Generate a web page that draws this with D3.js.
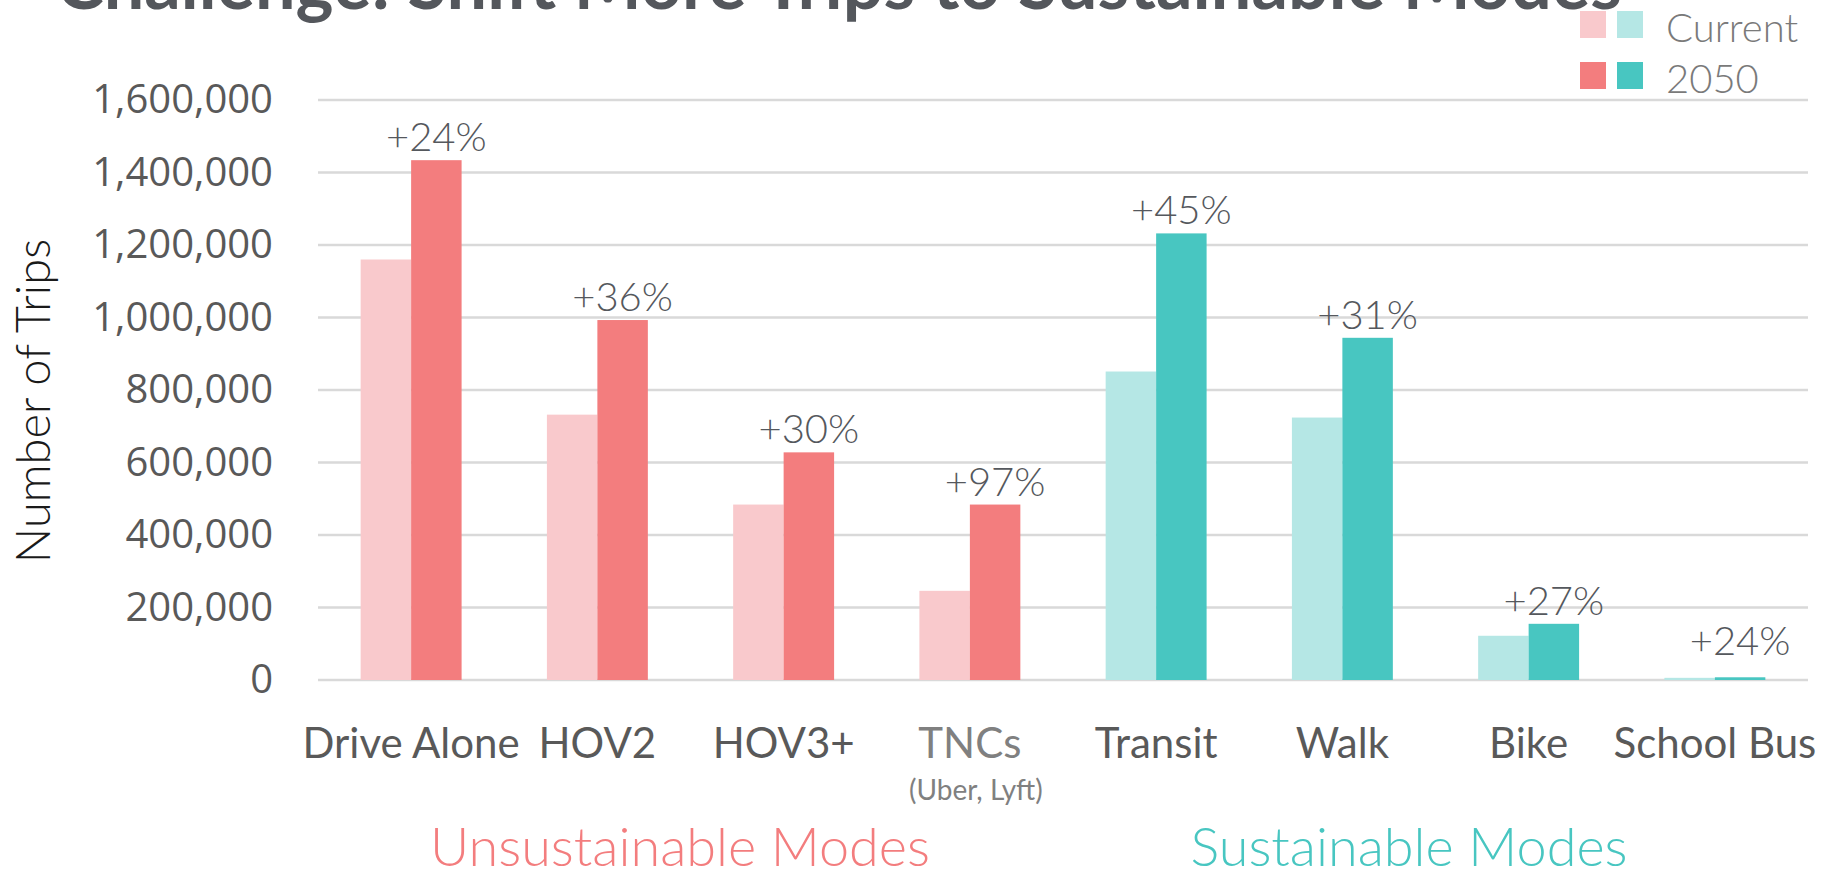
<!DOCTYPE html>
<html>
<head>
<meta charset="utf-8">
<script src="https://cdn.jsdelivr.net/npm/d3@7"></script>
<style>
  html, body { margin: 0; padding: 0; background: #fff; }
  svg { display: block; }
</style>
</head>
<body>
<div class="js-chart"></div>
<script>
// trips by mode, current vs 2050
const modes = ["Drive Alone", "HOV2", "HOV3+", "TNCs", "Transit", "Walk", "Bike", "School Bus"];
const subLabels = ["", "", "", "(Uber, Lyft)", "", "", "", ""];
const sustainable = [false, false, false, false, true, true, true, true];
const currentTrips = [1160000, 732000, 484000, 246000, 851000, 724000, 122000, 6000];
const futureTrips = [1434000, 993000, 628000, 484000, 1232000, 944000, 155000, 7500];
const changeLabels = ["+24%", "+36%", "+30%", "+97%", "+45%", "+31%", "+27%", "+24%"];
const yTicks = [0, 200000, 400000, 600000, 800000, 1000000, 1200000, 1400000, 1600000];
const seriesKeys = ["current", "future"];
const legendLabels = ["Current", "2050"];

const width = 1825
    , height = 875
    ;

const colors = {
  unsustainable: { current: "#f9c9cc", future: "#f37d7e" },
  sustainable: { current: "#b5e7e5", future: "#48c6c1" }
};

const rows = modes.map((m, i) => ({
  mode: m,
  sub: subLabels[i],
  group: sustainable[i] ? "sustainable" : "unsustainable",
  current: currentTrips[i],
  future: futureTrips[i],
  change: changeLabels[i]
}));

const svg = d3.select(".js-chart")
  .append("svg")
  .attr("width", width)
  .attr("height", height);

const x0 = d3.scaleBand()
  .domain(modes)
  .range([318, 1808])
  .paddingInner(0.458)
  .paddingOuter(0.229);

const x1 = d3.scaleBand()
  .domain(seriesKeys)
  .range([0, x0.bandwidth()]);

const y = d3.scaleLinear()
  .domain([0, 1600000])
  .range([680, 100]);

// title, cut off at the top like the slide
svg.append("text")
  .attr("x", 56)
  .attr("y", 9)
  .style("font", "bold 72px Lato, sans-serif")
  .attr("fill", "#54575c")
  .text("Challenge: Shift More Trips to Sustainable Modes");

// gridlines
svg.append("g")
  .selectAll("line")
  .data(yTicks)
  .join("line")
    .attr("x1", 318)
    .attr("x2", 1808)
    .attr("y1", d => y(d))
    .attr("y2", d => y(d))
    .attr("stroke", "#d9d9d9")
    .attr("stroke-width", 2.5);

// y axis labels
const yAxis = d3.axisLeft(y)
  .tickValues(yTicks)
  .tickFormat(d3.format(","))
  .tickSize(0)
  .tickPadding(0);

svg.append("g")
  .attr("transform", "translate(273,0)")
  .call(yAxis)
  .call(g => g.select(".domain").remove())
  .selectAll("text")
    .style("font", "40px 'Open Sans', sans-serif")
    .attr("fill", "#595959");

svg.append("text")
  .attr("transform", "translate(50,401) rotate(-90)")
  .attr("text-anchor", "middle")
  .style("font", "300 47px Lato, sans-serif")
  .attr("fill", "#1a1a1a")
  .text("Number of Trips");

// bars
const groupG = svg.append("g")
  .selectAll("g")
  .data(rows)
  .join("g")
    .attr("transform", d => `translate(${x0(d.mode)},0)`);

groupG.selectAll("rect")
  .data(d => seriesKeys.map(k => ({ key: k, value: d[k], group: d.group })))
  .join("rect")
    .attr("x", d => x1(d.key))
    .attr("y", d => y(d.value))
    .attr("width", x1.bandwidth())
    .attr("height", d => y(0) - y(d.value))
    .attr("fill", d => colors[d.group][d.key]);

// percent change labels above the 2050 bar
groupG.append("text")
  .attr("x", x1("future") + x1.bandwidth() / 2)
  .attr("y", d => Math.min(y(d.future) - 9, y(0) - 25))
  .attr("text-anchor", "middle")
  .style("font", "300 40px Lato, sans-serif")
  .attr("fill", "#55585d")
  .text(d => d.change);

// category labels
const catG = svg.append("g")
  .selectAll("g")
  .data(rows)
  .join("g")
    .attr("transform", d => `translate(${x0(d.mode) + x0.bandwidth() / 2},0)`);

catG.append("text")
  .attr("y", 758)
  .attr("text-anchor", "middle")
  .style("font", "42px Lato, sans-serif")
  .attr("fill", d => d.sub ? "#808080" : "#595959")
  .text(d => d.mode);

catG.filter(d => d.sub)
  .append("text")
  .attr("x", 6)
  .attr("y", 800)
  .attr("text-anchor", "middle")
  .style("font", "28px Lato, sans-serif")
  .attr("fill", "#808080")
  .text(d => d.sub);

// group labels
svg.append("text")
  .attr("x", 680)
  .attr("y", 866)
  .attr("text-anchor", "middle")
  .style("font", "300 54px Lato, sans-serif")
  .attr("fill", colors.unsustainable.future)
  .text("Unsustainable Modes");

svg.append("text")
  .attr("x", 1409)
  .attr("y", 866)
  .attr("text-anchor", "middle")
  .style("font", "300 54px Lato, sans-serif")
  .attr("fill", colors.sustainable.future)
  .text("Sustainable Modes");

// legend: two swatches per row (unsustainable, sustainable)
const legend = svg.append("g")
  .selectAll("g")
  .data(seriesKeys)
  .join("g")
    .attr("transform", (d, i) => `translate(1580,${11 + i * 51})`);

legend.append("rect")
  .attr("width", 26)
  .attr("height", 27)
  .attr("fill", d => colors.unsustainable[d]);

legend.append("rect")
  .attr("x", 37)
  .attr("width", 26)
  .attr("height", 27)
  .attr("fill", d => colors.sustainable[d]);

legend.append("text")
  .attr("x", 86)
  .attr("y", 31)
  .style("font", "300 40px Lato, sans-serif")
  .attr("fill", "#7a7a7a")
  .text((d, i) => legendLabels[i]);
</script>
</body>
</html>
